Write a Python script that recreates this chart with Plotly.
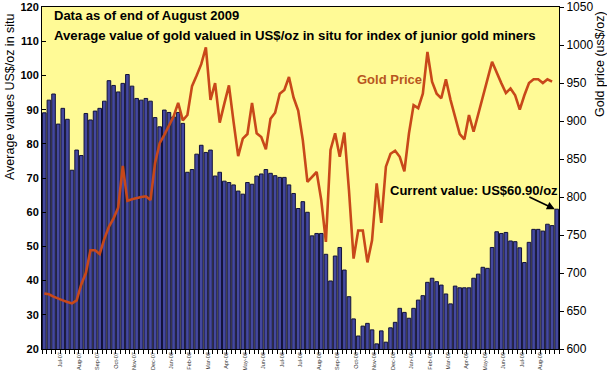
import plotly.graph_objects as go

# Weekly index of junior gold miners: average value of gold in situ (US$/oz)
insitu_value = [
    89.1, 92.8, 94.6, 85.8, 90.4, 87.2, 72.3, 78.2, 76.6, 88.9,
    87.0, 89.6, 90.4, 92.5, 98.5, 97.1, 95.2, 97.7, 100.3, 96.9,
    93.3, 92.8, 93.3, 92.5, 87.7, 85.0, 89.9, 89.2, 87.9, 89.2,
    86.0, 71.7, 72.5, 77.0, 79.6, 77.5, 78.2, 70.6, 71.7, 69.1,
    68.7, 68.0, 66.2, 65.3, 68.7, 68.2, 70.6, 71.2, 72.5, 71.4,
    70.7, 70.2, 70.2, 68.0, 65.5, 61.1, 63.1, 60.0, 53.1, 53.8,
    53.8, 47.7, 39.9, 47.2, 49.7, 43.1, 35.3, 28.8, 23.8, 26.7,
    27.5, 25.6, 21.5, 25.3, 22.0, 26.2, 27.8, 31.9, 30.7, 29.0,
    31.9, 34.3, 35.6, 39.5, 40.7, 39.7, 38.7, 36.1, 33.2, 38.4,
    37.9, 37.9, 37.9, 40.7, 41.9, 43.9, 43.6, 49.7, 54.3, 53.8,
    54.1, 51.6, 51.4, 49.6, 45.3, 51.2, 55.0, 55.0, 54.5, 56.5,
    56.1, 60.9,
]

# Weekly gold price (US$/oz)
gold_price = [
    673, 672, 669, 666, 664, 662, 660, 664, 685, 700,
    730, 730, 725, 745, 761, 772, 786, 841, 795, 797,
    798, 800, 801, 796, 845, 871, 882, 895, 906, 924,
    901, 908, 946, 960, 975, 997, 928, 950, 898, 923,
    947, 899, 854, 877, 883, 924, 884, 879, 863, 903,
    911, 936, 941, 958, 931, 914, 875, 820, 827, 833,
    796, 741, 862, 884, 853, 885, 809, 719, 756, 756,
    714, 743, 818, 766, 840, 857, 861, 853, 834, 884,
    921, 917, 936, 991, 952, 936, 930, 955, 928, 906,
    883, 876, 908, 886, 910, 935, 955, 978, 963, 950,
    937, 943, 934, 915, 934, 950, 955, 955, 950, 955,
    952,
]

tick_labels = [
    "Jul-07", "Aug-07", "Sep-07", "Oct-07", "Nov-07", "Dec-07", "Jan-08",
    "Feb-08", "Mar-08", "Apr-08", "May-08", "Jun-08", "Jul-08", "Jul-08",
    "Aug-08", "Sep-08", "Oct-08", "Nov-08", "Dec-08", "Jan-09", "Feb-09",
    "Mar-09", "Apr-09", "May-09", "Jun-09", "Jul-09", "Aug-09",
]

weeks = list(range(len(insitu_value)))
gold_weeks = list(range(len(gold_price)))
tick_positions = [3.5 + 4 * k for k in range(len(tick_labels))]

fig = go.Figure()
fig.add_trace(go.Bar(
    x=weeks, y=insitu_value,
    marker=dict(color="#44489f", line=dict(color="#12123a", width=1)),
    yaxis="y", showlegend=False,
))
fig.add_trace(go.Scatter(
    x=gold_weeks, y=gold_price, mode="lines",
    line=dict(color="#c8481a", width=2.6),
    yaxis="y2", showlegend=False,
))

W, H = 607, 377
L, R, T, B = 42, 48, 7, 28
pw, ph = W - L - R, H - T - B

def px(x):
    return (x - L) / pw

def py(y):
    return (H - B - y) / ph

font_family = "Liberation Sans, Arial, sans-serif"

fig.update_layout(
    width=W, height=H,
    margin=dict(l=L, r=R, t=T, b=B, autoexpand=False),
    paper_bgcolor="white",
    plot_bgcolor="#fffa96",
    bargap=0.22,
    font=dict(family=font_family, color="black"),
    xaxis=dict(
        range=[-0.5, len(insitu_value) - 0.5],
        tickmode="array", tickvals=tick_positions, ticktext=tick_labels,
        tickangle=-90, tickfont=dict(size=5.5, color="#333333"),
        ticks="", ticklen=0, showline=True, linecolor="black", linewidth=1,
        mirror=True, showgrid=False, zeroline=False, automargin=False,
        minor=dict(ticks="outside", tickmode="linear", tick0=-0.5, dtick=1,
                   ticklen=4, tickcolor="black", showgrid=False),
    ),
    yaxis=dict(
        range=[20, 120.05], dtick=10, tick0=20,
        tickfont=dict(size=11, color="black"), tickprefix="<b>", ticksuffix="</b>",
        ticks="inside", ticklen=4, tickcolor="black",
        showline=True, linecolor="black", linewidth=1,
        showgrid=False, zeroline=False, automargin=False,
    ),
    yaxis2=dict(
        range=[600, 1050.2], dtick=50, tick0=600,
        overlaying="y", side="right",
        tickfont=dict(size=12, color="black"),
        ticks="outside", ticklen=4, tickcolor="black",
        showline=True, linecolor="black", linewidth=1,
        showgrid=False, zeroline=False, automargin=False,
    ),
)

annotations = [
    dict(text="<b>Data as of end of August 2009</b>", x=px(52), y=py(15),
         xanchor="left", yanchor="middle", font=dict(size=13)),
    dict(text="<b>Average value of gold valued in US$/oz in situ for index of junior gold miners</b>",
         x=px(52), y=py(36), xanchor="left", yanchor="middle", font=dict(size=13.2)),
    dict(text="<b>Gold Price</b>", x=px(355), y=py(80), xanchor="left",
         yanchor="middle", font=dict(size=13, color="#b8561e")),
    dict(text="<b>Current value: US$60.90/oz</b>", x=px(388), y=py(190),
         xanchor="left", yanchor="middle", font=dict(size=13)),
    dict(text="Average values US$/oz in situ", textangle=-90, x=px(10), y=py(97),
         xanchor="center", yanchor="middle", font=dict(size=12.5)),
    dict(text="Gold price (us$/oz)", textangle=-90, x=px(600), y=py(64),
         xanchor="center", yanchor="middle", font=dict(size=12.5)),
]
for a in annotations:
    a.update(xref="paper", yref="paper", showarrow=False)
    fig.add_annotation(**a)

fig.add_annotation(
    x=len(insitu_value) - 1.4, y=insitu_value[-1], xref="x", yref="y",
    ax=-27, ay=-13, axref="pixel", ayref="pixel",
    text="", showarrow=True, arrowhead=2, arrowsize=1, arrowwidth=1.6,
    arrowcolor="black",
)

fig.write_html(
    "out.html",
    config={"displayModeBar": False},
    post_script="document.body.style.margin='0px';document.body.style.overflow='hidden';",
)
